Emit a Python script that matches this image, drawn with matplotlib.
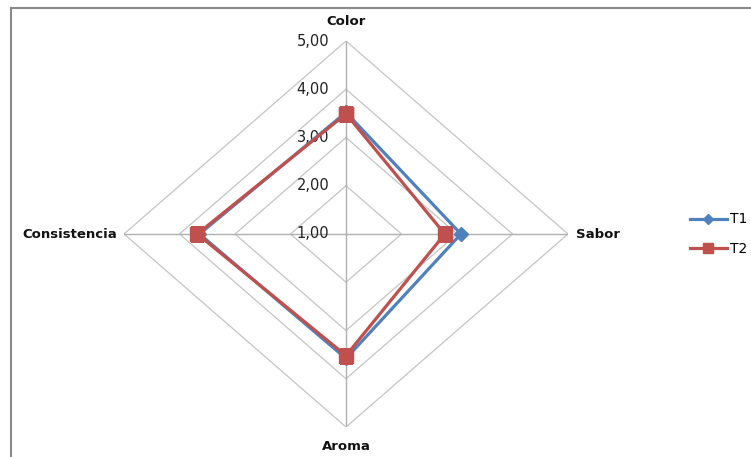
import numpy as np
import matplotlib
matplotlib.use('Agg')
from matplotlib import pyplot as plt
from matplotlib.patches import Rectangle

plt.rcParams['font.family'] = ['DejaVu Sans']

# sensory attributes, clockwise from the top
categories = ['Color', 'Sabor', 'Aroma', 'Consistencia']
t1 = [3.52, 3.07, 3.58, 3.64]
t2 = [3.49, 2.78, 3.52, 3.68]
levels = [1, 2, 3, 4, 5]
level_labels = ['1,00', '2,00', '3,00', '4,00', '5,00']

blue = '#4F81BD'
red = '#C0504D'

angles = np.linspace(0, 2 * np.pi, len(categories), endpoint=False)
closed = np.append(angles, angles[0])

fig = plt.figure(figsize=(7.51, 4.57), dpi=100)
ax = fig.add_axes([124 / 751, 30 / 457, 444 / 751, 386 / 457], projection='polar')
ax.set_aspect('auto')
ax.set_theta_zero_location('N')
ax.set_theta_direction(-1)
ax.set_ylim(levels[0], levels[-1])
ax.grid(False)
ax.spines['polar'].set_visible(False)
ax.set_xticks([])
ax.set_yticks([])
ax.patch.set_alpha(0)

# diamond-shaped grid rings and spokes
for lvl in levels[1:]:
    ax.plot(closed, [lvl] * len(closed), color='#c4c4c4', lw=0.9, zorder=1)
for a in angles:
    ax.plot([a, a], [levels[0], levels[-1]], color='#b0b0b0', lw=1.0, zorder=1)

# value labels along the top spoke
for lvl, lab in zip(levels, level_labels):
    ax.annotate(lab, xy=(0, lvl), xytext=(-12, 0), textcoords='offset points',
                ha='right', va='center', fontsize=10.5, color='#222222')

# category names at the spoke ends
offsets = [(0, 14, 'center', 'center'), (6, 0, 'left', 'center'),
           (0, -14, 'center', 'center'), (-5, 0, 'right', 'center')]
for a, name, (dx, dy, ha, va) in zip(angles, categories, offsets):
    ax.annotate(name, xy=(a, levels[-1]), xytext=(dx, dy), textcoords='offset points',
                ha=ha, va=va, fontsize=9.5, fontweight='bold', color='#111111')

l1, = ax.plot(closed, t1 + t1[:1], color=blue, lw=2.3, marker='D', ms=7,
              mfc=blue, mec=blue, label='T1', zorder=3)
l2, = ax.plot(closed, t2 + t2[:1], color=red, lw=2.3, marker='s', ms=10.5,
              mfc=red, mec=red, label='T2', zorder=4)

fig.legend(handles=[l1, l2], loc='center left', bbox_to_anchor=(677 / 751, 1 - 234 / 457),
           frameon=False, fontsize=10, handlelength=2.7, handletextpad=0.2,
           labelspacing=1.1, markerscale=0.75)

# outer chart border (runs off the right and bottom edges)
fig.patches.append(Rectangle((10.5 / 751, -0.1), 2, 1.1 - 8.5 / 457,
                             transform=fig.transFigure, fill=False,
                             edgecolor='#8a8a8a', lw=1.5))

fig.savefig('out.png', dpi=100)
